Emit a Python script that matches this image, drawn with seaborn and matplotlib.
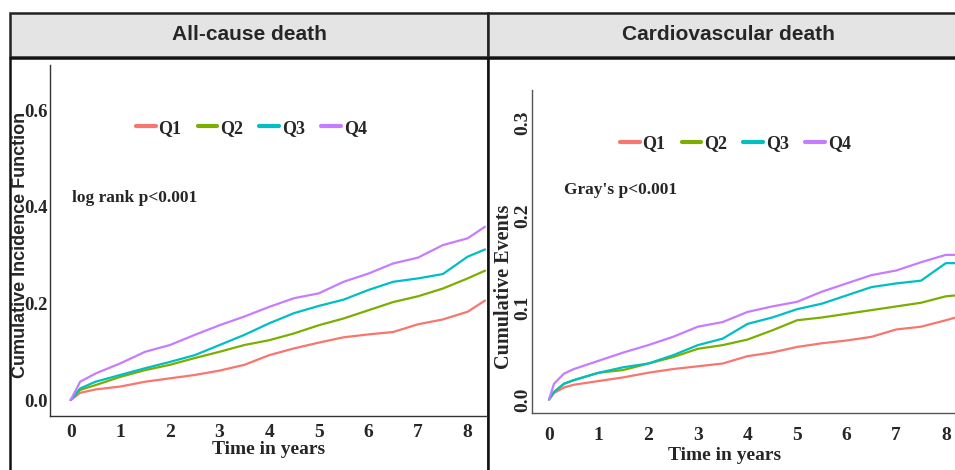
import matplotlib

matplotlib.use("Agg")
import matplotlib.pyplot as plt
import pandas as pd
import seaborn as sns
from matplotlib.patches import Rectangle

# ---- data -----------------------------------------------------------------
GROUPS = ["Q1", "Q2", "Q3", "Q4"]
COLORS = ["#F8766D", "#7CAE00", "#00BFC4", "#C77CFF"]

# All-cause death: cumulative incidence by year
allcause_time = [0, 0.19, 0.5, 1, 1.5, 2, 2.5, 3, 3.5, 4, 4.5, 5, 5.5, 6, 6.5, 7, 7.5, 8, 8.35]
allcause_q1 = [0, 0.015, 0.022, 0.028, 0.038, 0.045, 0.052, 0.061, 0.073, 0.093, 0.107, 0.119,
               0.130, 0.136, 0.141, 0.157, 0.167, 0.183, 0.206]
allcause_q2 = [0, 0.021, 0.031, 0.048, 0.062, 0.073, 0.087, 0.100, 0.114, 0.124, 0.138, 0.155,
               0.169, 0.186, 0.203, 0.215, 0.231, 0.252, 0.268]
allcause_q3 = [0, 0.024, 0.038, 0.052, 0.066, 0.079, 0.093, 0.114, 0.135, 0.159, 0.180, 0.195,
               0.208, 0.228, 0.245, 0.252, 0.261, 0.297, 0.312]
allcause_q4 = [0, 0.038, 0.055, 0.076, 0.100, 0.114, 0.135, 0.155, 0.173, 0.193, 0.211, 0.221,
               0.245, 0.262, 0.283, 0.295, 0.321, 0.335, 0.359]

# Cardiovascular death: cumulative events by year
cv_time = [0, 0.1, 0.3, 0.5, 1, 1.5, 2, 2.5, 3, 3.5, 4, 4.5, 5, 5.5, 6, 6.5, 7, 7.5, 8, 8.2]
cv_q1 = [0, 0.007, 0.013, 0.016, 0.020, 0.024, 0.029, 0.033, 0.036, 0.039, 0.047, 0.051, 0.057,
         0.061, 0.064, 0.068, 0.076, 0.079, 0.086, 0.089]
cv_q2 = [0, 0.008, 0.017, 0.021, 0.029, 0.032, 0.039, 0.046, 0.055, 0.059, 0.065, 0.075, 0.086,
         0.089, 0.093, 0.097, 0.101, 0.105, 0.112, 0.113]
cv_q3 = [0, 0.008, 0.017, 0.021, 0.029, 0.035, 0.039, 0.048, 0.059, 0.066, 0.082, 0.089, 0.098,
         0.104, 0.113, 0.122, 0.126, 0.129, 0.148, 0.148]
cv_q4 = [0, 0.017, 0.028, 0.033, 0.042, 0.051, 0.059, 0.068, 0.079, 0.084, 0.095, 0.101, 0.106,
         0.117, 0.126, 0.135, 0.140, 0.149, 0.157, 0.157]

X_TICKS = [0, 1, 2, 3, 4, 5, 6, 7, 8]
ALLCAUSE_YTICKS = [0.0, 0.2, 0.4, 0.6]
CV_YTICKS = [0.0, 0.1, 0.2, 0.3]

SERIF = "Liberation Serif"
SANS = "Liberation Sans"
W, H = 955, 470


def long_frame(time, series):
    rows = []
    for name, vals in zip(GROUPS, series):
        rows += [{"time": t, "value": v, "group": name} for t, v in zip(time, vals)]
    return pd.DataFrame(rows)


def px_axes(fig, x0, y0, x1, y1):
    """Axes from pixel box (top-left origin)."""
    return fig.add_axes([x0 / W, 1 - y1 / H, (x1 - x0) / W, (y1 - y0) / H])


def style_axes(ax, spine_color):
    for side in ("top", "right"):
        ax.spines[side].set_visible(False)
    for side in ("left", "bottom"):
        ax.spines[side].set_color(spine_color)
        ax.spines[side].set_linewidth(1.0)
    ax.set_xticks(X_TICKS)
    ax.tick_params(length=3, color=spine_color)
    for lab in ax.get_xticklabels() + ax.get_yticklabels():
        lab.set_fontfamily(SERIF)
        lab.set_fontweight("bold")
        lab.set_fontsize(14)


def add_legend(ax, loc_xy):
    handles = [plt.Line2D([], [], color=c, lw=3) for c in COLORS]
    ax.legend(handles, GROUPS, loc="center left", bbox_to_anchor=loc_xy, ncol=4,
              frameon=False, handlelength=1.1, handletextpad=0.15, columnspacing=0.9,
              prop={"family": SERIF, "weight": "bold", "size": 13})


sns.set_style("white")
fig = plt.figure(figsize=(W / 100, H / 100), dpi=100)

# frames and facet strips
bg = fig.add_axes([0, 0, 1, 1], zorder=-1)
bg.set_xlim(0, W)
bg.set_ylim(H, 0)
bg.axis("off")
for x0, x1 in [(10, 488), (488, 962)]:
    bg.add_patch(Rectangle((x0, 13), x1 - x0, 44, facecolor="#E4E4E4", edgecolor="#222222", lw=1.8))
    bg.add_patch(Rectangle((x0, 58), x1 - x0, 420, facecolor="white", edgecolor="#111111", lw=1.8))
bg.text(249, 34, "All-cause death", ha="center", va="center", fontsize=15,
        fontweight="bold", family=SANS)
bg.text(728, 34, "Cardiovascular death", ha="center", va="center", fontsize=15,
        fontweight="bold", family=SANS)

# left panel: all-cause death
ax1 = px_axes(fig, 50, 65, 487, 416)
df1 = long_frame(allcause_time, [allcause_q1, allcause_q2, allcause_q3, allcause_q4])
sns.lineplot(data=df1, x="time", y="value", hue="group", palette=COLORS, sort=False,
             lw=1.6, legend=False, ax=ax1)
ax1.set_xlim(-0.417, 8.39)
ax1.set_ylim(-0.033, 0.694)
ax1.set_yticks(ALLCAUSE_YTICKS)
ax1.set_yticklabels([f"{v:.1f}" for v in ALLCAUSE_YTICKS])
style_axes(ax1, "#333333")
for lab in ax1.get_yticklabels():
    lab.set_fontsize(13.5)
ax1.tick_params(axis="y", pad=-1, length=2.5)
ax1.tick_params(axis="x", pad=3)
ax1.set_xlabel("Time in years", family=SERIF, fontweight="bold", fontsize=14)
ax1.xaxis.set_label_coords(0.5, -0.07)
ax1.set_ylabel("Cumulative Incidence Function", family=SANS, fontweight="bold",
               fontsize=13, va="center")
ax1.yaxis.set_label_coords(-0.067, 0.487)
add_legend(ax1, (0.159, 0.82))
ax1.text(0.05, 0.62, "log rank p<0.001", transform=ax1.transAxes, ha="left", va="center",
         family=SERIF, fontweight="bold", fontsize=12.5)

# right panel: cardiovascular death
ax2 = px_axes(fig, 532, 90, 955, 413)
df2 = long_frame(cv_time, [cv_q1, cv_q2, cv_q3, cv_q4])
sns.lineplot(data=df2, x="time", y="value", hue="group", palette=COLORS, sort=False,
             lw=1.6, legend=False, ax=ax2)
ax2.set_xlim(-0.343, 8.185)
ax2.set_ylim(-0.0147, 0.336)
ax2.set_yticks(CV_YTICKS)
ax2.set_yticklabels([f"{v:.1f}" for v in CV_YTICKS])
style_axes(ax2, "#555555")
for lab in ax2.get_yticklabels():
    lab.set_rotation(90)
    lab.set_va("center")
ax2.tick_params(axis="y", pad=-3, length=3.5)
ax2.tick_params(axis="x", pad=7)
ax2.set_xlabel("Time in years", family=SERIF, fontweight="bold", fontsize=14)
ax2.xaxis.set_label_coords(0.456, -0.105)
ax2.set_ylabel("Cumulative Events", family=SERIF, fontweight="bold", fontsize=14.5, va="center")
ax2.yaxis.set_label_coords(-0.066, 0.39)
add_legend(ax2, (0.169, 0.834))
ax2.text(0.075, 0.691, "Gray's p<0.001", transform=ax2.transAxes, ha="left", va="center",
         family=SERIF, fontweight="bold", fontsize=12.5)

fig.savefig("out.png", dpi=100)
